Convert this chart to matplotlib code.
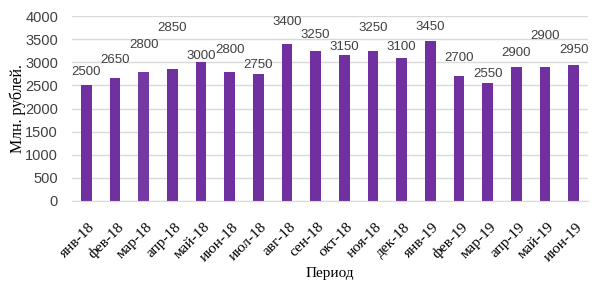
import matplotlib
matplotlib.use("Agg")
import matplotlib.pyplot as plt
import matplotlib.transforms as mtransforms
import numpy as np

# monthly values, mln rubles
periods = ["янв-18", "фев-18", "мар-18", "апр-18", "май-18", "июн-18",
           "июл-18", "авг-18", "сен-18", "окт-18", "ноя-18", "дек-18",
           "янв-19", "фев-19", "мар-19", "апр-19", "май-19", "июн-19"]
values = [2500, 2650, 2800, 2850, 3000, 2800, 2750, 3400, 3250,
          3150, 3250, 3100, 3450, 2700, 2550, 2900, 2900, 2950]
y_ticks = [0, 500, 1000, 1500, 2000, 2500, 3000, 3500, 4000]

# label lift above bar top, in points (labels were nudged by hand in the source)
label_lift = [5, 9, 15, 25, 0, 11, 2, 11, 7, 2, 12, 3, 6, 9, 2, 6, 18, 6]

bar_color = "#7030A0"
grid_color = "#d9d9d9"

fig = plt.figure(figsize=(6.03, 2.97), dpi=100)
ax = fig.add_axes([72 / 603, 1 - 201 / 297, 516 / 603, 185 / 297])

x = np.arange(len(periods))
colors = [bar_color] * len(periods)
colors[2] = "#7539A3"
ax.bar(x, values, width=0.37, color=colors, zorder=2)

for xi, v, lift in zip(x, values, label_lift):
    ax.annotate(str(v), (xi, v), xytext=(0, lift), textcoords="offset points",
                ha="center", va="bottom", fontsize=9.5, color="#404040",
                family="Liberation Sans")

ax.set_xlim(-0.5, len(periods) - 0.5)
ax.set_ylim(0, 4000)
ax.set_yticks(y_ticks)
ax.set_yticklabels([str(t) for t in y_ticks], family="Liberation Sans",
                   fontsize=10.5, color="#404040")
ax.yaxis.grid(True, color=grid_color, linewidth=1, zorder=0)
ax.set_axisbelow(True)
for s in ["top", "right", "left"]:
    ax.spines[s].set_visible(False)
ax.spines["bottom"].set_color(grid_color)
ax.tick_params(axis="both", length=0)
ax.tick_params(axis="y", pad=10)

ax.set_xticks(x)
ax.set_xticklabels(periods, rotation=45, ha="right", rotation_mode="anchor",
                   family="Liberation Serif", fontsize=11)
ax.tick_params(axis="x", pad=14)
shift = mtransforms.ScaledTranslation(2 / 100, 0, fig.dpi_scale_trans)
for lbl in ax.get_xticklabels():
    lbl.set_transform(lbl.get_transform() + shift)

ax.set_xlabel("Период", family="Liberation Serif", fontsize=11)
ax.xaxis.set_label_coords(0.5, -(274 - 201) / 185, transform=ax.transAxes)
ax.set_ylabel("Млн. рублей.", family="Liberation Serif", fontsize=11.5)
ax.yaxis.set_label_coords(-(72 - 18) / 516, 0.5, transform=ax.transAxes)
ax.xaxis.label.set_va("center")
ax.yaxis.label.set_va("center")

fig.savefig("out.png", dpi=100)
